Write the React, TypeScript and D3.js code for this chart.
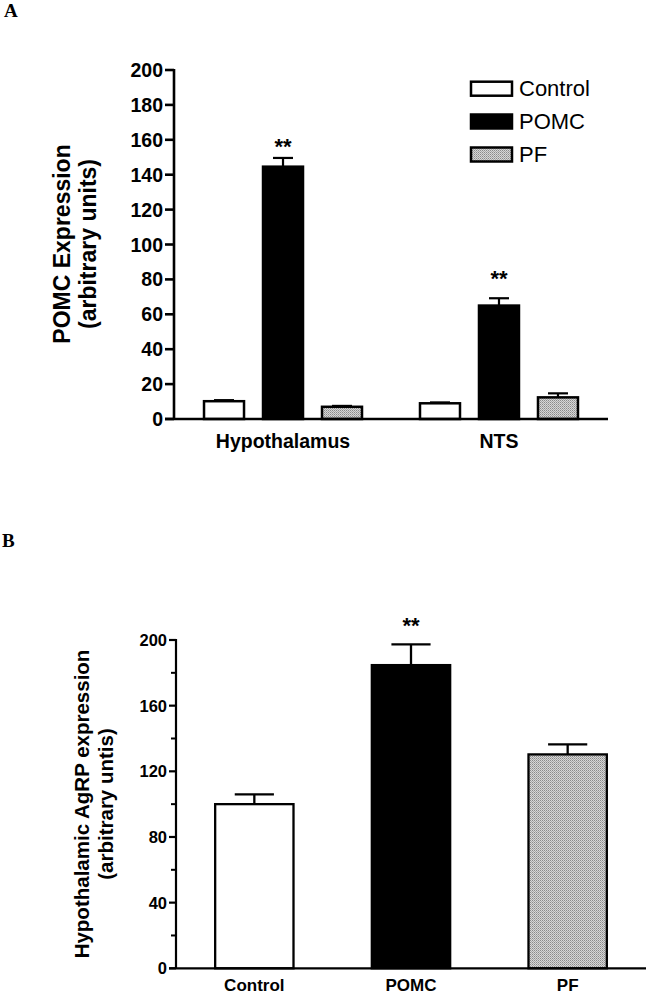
import React from "react";
import * as d3 from "d3";

// Panel A data
const regionsA = ["Hypothalamus", "NTS"];
const seriesA = ["Control", "POMC", "PF"];
const meanA = [
  [10.2, 144.6, 7.0],
  [9.0, 65.0, 12.4],
];
const errA = [
  [0.6, 5.0, 0.5],
  [0.5, 4.2, 2.3],
];
const starsA = [null, "**", null];
const starLevelA = [152, 76];
const ticksA = [0, 20, 40, 60, 80, 100, 120, 140, 160, 180, 200];

// Panel B data
const groupsB = ["Control", "POMC", "PF"];
const meanB = [100, 184.7, 130.3];
const errB = [6, 12.6, 6.1];
const starsB = [null, "**", null];
const starLevelB = [null, 204.5, null];
const majorTicksB = [0, 40, 80, 120, 160, 200];
const minorTicksB = [20, 60, 100, 140, 180];

const SANS = "'Liberation Sans', Arial, Helvetica, sans-serif";
const SERIF = "'Liberation Serif', 'Times New Roman', serif";

function fillFor(s: string) {
  if (s === "POMC") return "#000";
  if (s === "PF") return "url(#dither)";
  return "#fff";
}

export default function App() {
  // Panel A scales
  const yA = d3.scaleLinear().domain([0, 200]).range([419, 70]);
  const x0A = d3
    .scaleBand<string>()
    .domain(regionsA)
    .range([174, 608])
    .paddingInner(0.2685)
    .paddingOuter(0.139);
  const x1A = d3
    .scaleBand<string>()
    .domain(seriesA)
    .range([0, x0A.bandwidth()])
    .paddingInner(0.322)
    .paddingOuter(0);

  // Panel B scales
  const yB = d3.scaleLinear().domain([0, 200]).range([968.3, 640]);
  const xB = d3
    .scaleBand<string>()
    .domain(groupsB)
    .range([176, 646])
    .paddingInner(0.5)
    .paddingOuter(0.25);

  const legendY = [81.7, 114.5, 147.5];

  return (
    <svg
      width={646}
      height={995}
      style={{ position: "absolute", left: 0, top: 0, display: "block", background: "#fff" }}
    >
      <defs>
        <pattern id="dither" width="2" height="2" patternUnits="userSpaceOnUse">
          <rect width="2" height="2" fill="#d6d6d6" />
          <rect x="0" y="0" width="1" height="1" fill="#8a8a8a" />
          <rect x="1" y="1" width="1" height="1" fill="#a8a8a8" />
        </pattern>
      </defs>
      <rect width={646} height={995} fill="#fff" />

      {/* Panel labels */}
      <text x={4} y={17} fontFamily={SERIF} fontWeight="bold" fontSize={19}>A</text>
      <text x={2} y={547} fontFamily={SERIF} fontWeight="bold" fontSize={19}>B</text>

      {/* ===== Panel A ===== */}
      <g>
        {/* y title */}
        <g transform={`translate(70,244) rotate(-90)`}>
          <text textAnchor="middle" fontFamily={SANS} fontWeight="bold" fontSize={23}>
            POMC Expression
          </text>
        </g>
        <g transform={`translate(96,244) rotate(-90)`}>
          <text textAnchor="middle" fontFamily={SANS} fontWeight="bold" fontSize={23}>
            (arbitrary units)
          </text>
        </g>

        {/* bars */}
        {regionsA.map((r, gi) =>
          seriesA.map((s, si) => {
            const x = (x0A(r) ?? 0) + (x1A(s) ?? 0);
            const w = x1A.bandwidth();
            const v = meanA[gi][si];
            const e = errA[gi][si];
            const cx = x + w / 2;
            return (
              <g key={r + s}>
                <line x1={cx} x2={cx} y1={yA(v)} y2={yA(v + e)} stroke="#000" strokeWidth={2.2} />
                <line x1={cx - w / 4} x2={cx + w / 4} y1={yA(v + e)} y2={yA(v + e)} stroke="#000" strokeWidth={2.2} />
                <rect
                  x={x}
                  y={yA(v)}
                  width={w}
                  height={yA(0) - yA(v)}
                  fill={fillFor(s)}
                  stroke="#000"
                  strokeWidth={2.5}
                />
                {starsA[si] && (
                  <text
                    x={cx}
                    y={yA(starLevelA[gi])}
                    textAnchor="middle"
                    fontFamily={SANS}
                    fontWeight="bold"
                    fontSize={22}
                  >
                    {starsA[si]}
                  </text>
                )}
              </g>
            );
          })
        )}

        {/* axes */}
        <line x1={174} x2={174} y1={yA(200) - 1} y2={yA(0)} stroke="#000" strokeWidth={2.6} />
        <line x1={165} x2={608} y1={yA(0)} y2={yA(0)} stroke="#000" strokeWidth={2.6} />
        {ticksA.map((t) => (
          <g key={t}>
            <line x1={165} x2={174} y1={yA(t)} y2={yA(t)} stroke="#000" strokeWidth={2.6} />
            <text
              x={163}
              y={yA(t)}
              dy="0.36em"
              textAnchor="end"
              fontFamily={SANS}
              fontWeight="bold"
              fontSize={19.5}
            >
              {t}
            </text>
          </g>
        ))}
        {regionsA.map((r) => (
          <text
            key={r}
            x={(x0A(r) ?? 0) + x0A.bandwidth() / 2}
            y={448}
            textAnchor="middle"
            fontFamily={SANS}
            fontWeight="bold"
            fontSize={19.5}
          >
            {r}
          </text>
        ))}

        {/* legend */}
        {seriesA.map((s, i) => (
          <g key={s}>
            <rect
              x={471}
              y={legendY[i]}
              width={41}
              height={14}
              fill={fillFor(s)}
              stroke="#000"
              strokeWidth={2.5}
            />
            <text
              x={519}
              y={legendY[i] + 14.5}
              fontFamily={SANS}
              fontSize={22}
            >
              {s}
            </text>
          </g>
        ))}
      </g>

      {/* ===== Panel B ===== */}
      <g>
        <g transform={`translate(89,804) rotate(-90)`}>
          <text textAnchor="middle" fontFamily={SANS} fontWeight="bold" fontSize={20.5}>
            Hypothalamic AgRP expression
          </text>
        </g>
        <g transform={`translate(113,804) rotate(-90)`}>
          <text textAnchor="middle" fontFamily={SANS} fontWeight="bold" fontSize={20.5}>
            (arbitrary untis)
          </text>
        </g>

        {groupsB.map((g, i) => {
          const x = xB(g) ?? 0;
          const w = xB.bandwidth();
          const v = meanB[i];
          const e = errB[i];
          const cx = x + w / 2;
          return (
            <g key={g}>
              <line x1={cx} x2={cx} y1={yB(v)} y2={yB(v + e)} stroke="#000" strokeWidth={2.3} />
              <line x1={cx - w / 4} x2={cx + w / 4} y1={yB(v + e)} y2={yB(v + e)} stroke="#000" strokeWidth={2.3} />
              <rect
                x={x}
                y={yB(v)}
                width={w}
                height={yB(0) - yB(v)}
                fill={fillFor(g)}
                stroke="#000"
                strokeWidth={2.3}
              />
              {starsB[i] && (
                <text
                  x={cx}
                  y={yB(starLevelB[i] as number)}
                  textAnchor="middle"
                  fontFamily={SANS}
                  fontWeight="bold"
                  fontSize={22}
                >
                  {starsB[i]}
                </text>
              )}
              <text
                x={cx}
                y={991}
                textAnchor="middle"
                fontFamily={SANS}
                fontWeight="bold"
                fontSize={17}
              >
                {g}
              </text>
            </g>
          );
        })}

        <line x1={176} x2={176} y1={yB(200) - 1} y2={yB(0)} stroke="#000" strokeWidth={2.2} />
        <line x1={169} x2={646} y1={yB(0)} y2={yB(0)} stroke="#000" strokeWidth={2.2} />
        {majorTicksB.map((t) => (
          <g key={t}>
            <line x1={169} x2={176} y1={yB(t)} y2={yB(t)} stroke="#000" strokeWidth={2.2} />
            <text
              x={167}
              y={yB(t)}
              dy="0.36em"
              textAnchor="end"
              fontFamily={SANS}
              fontWeight="bold"
              fontSize={16.5}
            >
              {t}
            </text>
          </g>
        ))}
        {minorTicksB.map((t) => (
          <line key={t} x1={171} x2={176} y1={yB(t)} y2={yB(t)} stroke="#000" strokeWidth={2} />
        ))}
      </g>
    </svg>
  );
}
